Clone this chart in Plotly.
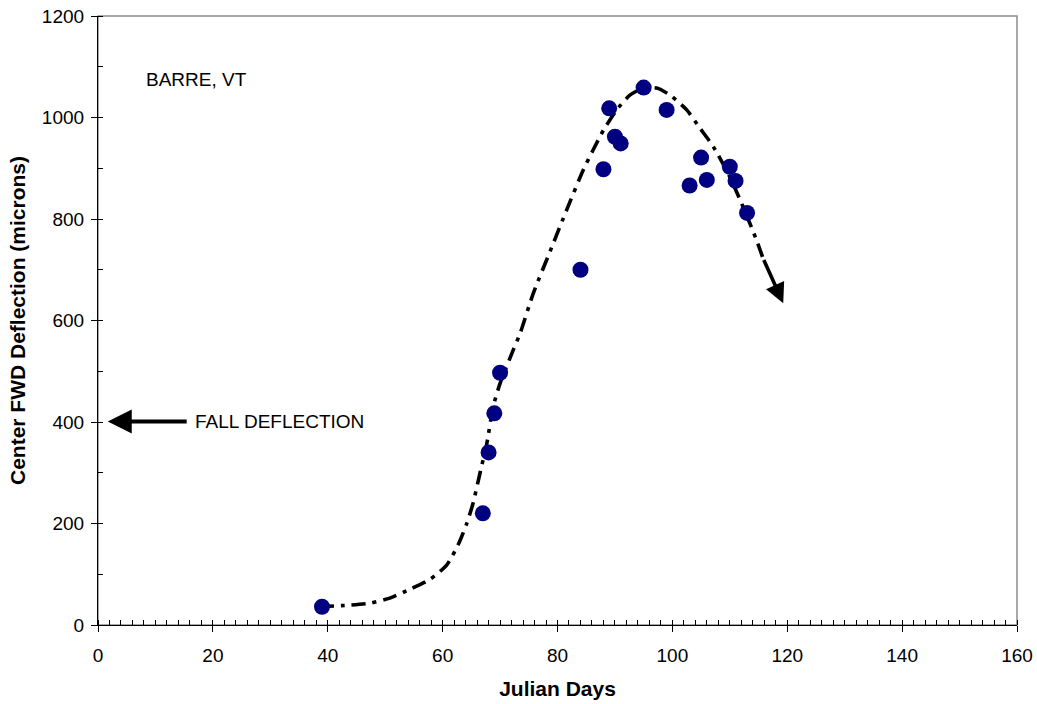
import plotly.graph_objects as go

# Measured center deflections
julian_days = [39, 67, 68, 69, 70, 84, 88, 89, 90, 91, 95, 99, 103, 105, 106, 110, 111, 113]
deflection = [36, 220, 340, 417, 497, 700, 898, 1018, 962, 949, 1059, 1015, 866, 921, 877, 903, 875, 812]

# Hand-fitted seasonal trend line
trend_days = [38.6, 43.6, 47.4, 50.8, 54.6, 57.8, 60.7, 62.7, 64.2, 65.3, 66.5, 67.7, 68.8, 70.0,
              72.3, 73.5, 75.8, 78.7, 81.6, 84.5, 86.2, 88.0, 90.3, 92.6, 94.9, 97.3, 99.6,
              102.5, 104.8, 107.1, 110.0, 112.3, 114.6, 115.8]
trend_vals = [36, 39, 43, 53, 72, 90, 118, 158, 200, 240, 299, 358, 430, 476,
              542, 575, 654, 736, 818, 897, 936, 975, 1015, 1044, 1058, 1058, 1044,
              1015, 979, 943, 883, 824, 760, 722]
trend_tip = (119.3, 634)

fall_tip = (1.7, 401)
fall_tail = (15.7, 401)

font_family = "Liberation Sans, Arial, sans-serif"

fig = go.Figure()

fig.add_trace(go.Scatter(
    x=trend_days, y=trend_vals, mode="lines",
    line=dict(color="black", width=3.6, dash="14px,7px,4px,7px", shape="spline", smoothing=0.6),
    hoverinfo="skip", showlegend=False,
))

fig.add_trace(go.Scatter(
    x=julian_days, y=deflection, mode="markers",
    marker=dict(color="#000080", size=16, line=dict(width=0)),
    showlegend=False,
))

annotations = [
    # arrowhead at the end of the trend line
    dict(x=trend_tip[0], y=trend_tip[1], ax=trend_days[-1], ay=trend_vals[-1],
         xref="x", yref="y", axref="x", ayref="y", text="", showarrow=True,
         arrowhead=2, arrowsize=1.1, arrowwidth=3.6, arrowcolor="black", standoff=0, startstandoff=0),
    # fall deflection marker
    dict(x=fall_tip[0], y=fall_tip[1], ax=fall_tail[0], ay=fall_tail[1],
         xref="x", yref="y", axref="x", ayref="y", text="", showarrow=True,
         arrowhead=2, arrowsize=1.2, arrowwidth=4, arrowcolor="black", standoff=0, startstandoff=0),
    dict(x=16.5, y=fall_tip[1], xref="x", yref="y", text="FALL DEFLECTION", showarrow=False,
         xanchor="left", yanchor="middle", font=dict(family=font_family, size=19, color="black")),
    dict(x=17.2, y=1074, xref="x", yref="y", text="BARRE, VT", showarrow=False,
         xanchor="center", yanchor="middle", font=dict(family=font_family, size=19, color="black")),
]

fig.update_layout(
    width=1037, height=704,
    margin=dict(l=98, r=20, t=16, b=79),
    paper_bgcolor="white", plot_bgcolor="white",
    font=dict(family=font_family, size=19, color="black"),
    annotations=annotations,
    shapes=[dict(type="rect", xref="paper", yref="paper", x0=0, x1=1, y0=0, y1=1,
                 line=dict(color="#8c8c8c", width=1.5), layer="below")],
)

fig.update_xaxes(
    range=[0, 160], dtick=20, tick0=0, automargin=False,
    showgrid=False, zeroline=False,
    showline=True, linecolor="black", linewidth=1.2,
    ticks="outside", ticklen=6, tickwidth=1.2, tickcolor="black",
    minor=dict(dtick=2, ticks="inside", ticklen=5, tickwidth=1, tickcolor="black", showgrid=False),
    tickfont=dict(size=19), ticklabelstandoff=7,
    title=dict(text="<b>Julian Days</b>", font=dict(size=21), standoff=16),
)
fig.update_yaxes(
    range=[0, 1200], dtick=200, tick0=0, automargin=False,
    showgrid=False, zeroline=False,
    showline=True, linecolor="black", linewidth=1.2,
    ticks="outside", ticklen=6, tickwidth=1.2, tickcolor="black",
    minor=dict(dtick=100, ticks="inside", ticklen=5, tickwidth=1, tickcolor="black", showgrid=False),
    tickfont=dict(size=19), ticklabelstandoff=3,
    title=dict(text="<b>Center FWD Deflection (microns)</b>", font=dict(size=21), standoff=10),
)

fig.write_html("out.html")
